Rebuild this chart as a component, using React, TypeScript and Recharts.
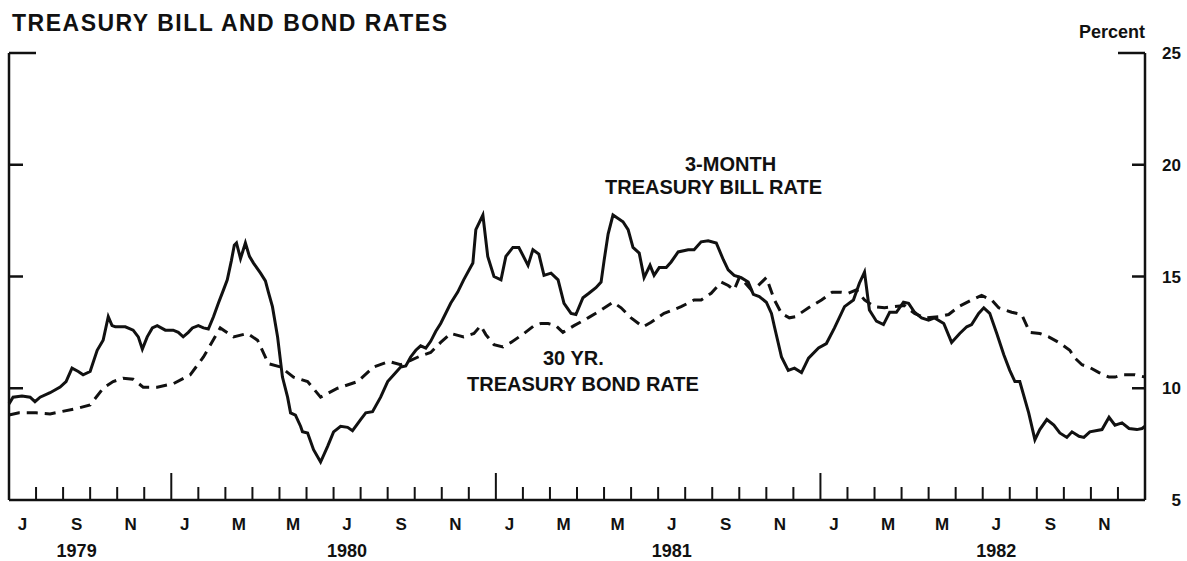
import React from 'react';
import { LineChart, Line, XAxis, YAxis } from 'recharts';

// months since 1 Jul 1979
const billMonths = [0, 0.15, 0.48, 0.78, 0.96, 1.15, 1.52, 1.89, 2.11, 2.33, 2.56, 2.74, 3.0, 3.26, 3.48, 3.67, 3.81, 3.93, 4.3, 4.59, 4.78, 4.93, 5.11, 5.3, 5.48, 5.78, 6.07, 6.26, 6.44, 6.63, 6.78, 7.0, 7.19, 7.37, 7.56, 7.74, 7.93, 8.07, 8.22, 8.33, 8.41, 8.56, 8.74, 8.89, 9.04, 9.3, 9.48, 9.59, 9.74, 9.93, 10.11, 10.3, 10.41, 10.59, 10.78, 10.85, 11.04, 11.26, 11.52, 11.78, 12.0, 12.26, 12.52, 12.7, 13.0, 13.19, 13.44, 13.74, 14.0, 14.3, 14.48, 14.67, 14.85, 15.04, 15.22, 15.41, 15.59, 15.78, 15.96, 16.33, 16.59, 16.81, 17.15, 17.26, 17.52, 17.7, 17.93, 18.19, 18.37, 18.63, 18.85, 19.19, 19.37, 19.59, 19.78, 20.04, 20.3, 20.52, 20.78, 20.96, 21.22, 21.44, 21.7, 21.89, 22.0, 22.15, 22.33, 22.7, 22.89, 23.07, 23.3, 23.48, 23.7, 23.85, 24.04, 24.3, 24.48, 24.74, 25.11, 25.33, 25.59, 25.85, 26.15, 26.41, 26.59, 26.81, 27.07, 27.33, 27.52, 27.74, 28.0, 28.19, 28.3, 28.56, 28.81, 29.04, 29.3, 29.56, 29.93, 30.22, 30.52, 30.89, 31.22, 31.44, 31.63, 31.81, 32.07, 32.33, 32.56, 32.81, 33.07, 33.26, 33.48, 33.74, 34.0, 34.22, 34.56, 34.85, 35.15, 35.41, 35.59, 35.85, 36.04, 36.26, 36.52, 36.78, 37.0, 37.19, 37.37, 37.7, 37.93, 38.11, 38.37, 38.63, 38.85, 39.11, 39.3, 39.56, 39.74, 39.96, 40.41, 40.67, 40.89, 41.15, 41.41, 41.7, 41.89, 42.0];
const billRates = [9.3, 9.6, 9.65, 9.6, 9.4, 9.6, 9.8, 10.05, 10.3, 10.9, 10.75, 10.6, 10.75, 11.7, 12.15, 13.2, 12.8, 12.75, 12.75, 12.6, 12.3, 11.75, 12.3, 12.7, 12.8, 12.6, 12.6, 12.5, 12.3, 12.5, 12.7, 12.8, 12.7, 12.65, 13.2, 13.8, 14.4, 14.85, 15.7, 16.4, 16.5, 15.8, 16.5, 15.9, 15.6, 15.15, 14.8, 14.3, 13.65, 12.3, 10.5, 9.6, 8.9, 8.8, 8.3, 8.05, 8.0, 7.25, 6.7, 7.4, 8.05, 8.3, 8.25, 8.1, 8.6, 8.9, 8.95, 9.6, 10.3, 10.7, 10.95, 11.0, 11.4, 11.7, 11.9, 11.8, 12.1, 12.55, 12.9, 13.8, 14.3, 14.85, 15.6, 17.1, 17.75, 15.9, 15.0, 14.85, 15.9, 16.3, 16.3, 15.5, 16.2, 16.0, 15.05, 15.15, 14.85, 13.8, 13.35, 13.3, 14.05, 14.25, 14.5, 14.75, 15.7, 16.9, 17.75, 17.45, 17.1, 16.3, 16.05, 14.95, 15.5, 15.05, 15.4, 15.4, 15.65, 16.1, 16.2, 16.2, 16.55, 16.6, 16.5, 15.75, 15.3, 15.05, 14.95, 14.75, 14.2, 14.1, 13.85, 13.35, 12.75, 11.4, 10.8, 10.9, 10.7, 11.35, 11.8, 12.0, 12.7, 13.65, 13.95, 14.7, 15.2, 13.5, 13.0, 12.85, 13.4, 13.4, 13.85, 13.8, 13.4, 13.15, 13.05, 13.15, 12.9, 12.05, 12.45, 12.75, 12.85, 13.35, 13.6, 13.35, 12.45, 11.5, 10.8, 10.3, 10.3, 8.9, 7.7, 8.15, 8.6, 8.35, 8.0, 7.8, 8.05, 7.85, 7.8, 8.05, 8.15, 8.7, 8.35, 8.45, 8.2, 8.15, 8.2, 8.3];

const bondMonths = [0, 0.37, 1.0, 1.52, 2.52, 3.0, 3.48, 3.85, 4.22, 4.59, 4.96, 5.48, 6.07, 6.7, 7.19, 7.81, 8.3, 8.81, 9.19, 9.59, 10.04, 10.52, 11.04, 11.52, 12.15, 12.89, 13.48, 14.04, 14.48, 14.85, 15.22, 15.59, 15.96, 16.33, 16.81, 17.19, 17.44, 17.63, 17.93, 18.26, 18.56, 19.04, 19.41, 19.67, 19.93, 20.22, 20.48, 20.89, 21.41, 21.89, 22.33, 22.63, 23.0, 23.44, 23.74, 24.22, 24.85, 25.33, 25.59, 25.96, 26.33, 26.59, 26.81, 27.0, 27.19, 27.44, 27.7, 28.0, 28.3, 28.56, 28.85, 29.07, 29.56, 30.04, 30.44, 30.74, 31.04, 31.33, 31.63, 32.0, 32.37, 32.7, 33.11, 33.48, 33.85, 34.37, 34.74, 35.11, 35.59, 35.96, 36.33, 36.59, 37.07, 37.44, 37.74, 38.11, 38.44, 38.81, 39.22, 39.41, 39.67, 39.93, 40.3, 40.67, 40.89, 41.15, 41.63, 42.0];
const bondRates = [8.8, 8.9, 8.9, 8.85, 9.1, 9.25, 10.0, 10.3, 10.45, 10.4, 10.05, 10.05, 10.2, 10.6, 11.4, 12.7, 12.3, 12.45, 12.15, 11.1, 10.95, 10.5, 10.3, 9.6, 10.0, 10.3, 10.95, 11.2, 11.05, 11.25, 11.45, 11.6, 12.05, 12.45, 12.3, 12.45, 12.8, 12.4, 11.95, 11.85, 12.05, 12.45, 12.8, 12.9, 12.9, 12.8, 12.5, 12.8, 13.15, 13.5, 13.85, 13.6, 13.15, 12.75, 12.95, 13.35, 13.65, 13.95, 13.95, 14.25, 14.75, 14.6, 14.4, 14.95, 14.75, 14.4, 14.6, 14.95, 13.95, 13.35, 13.15, 13.2, 13.6, 13.95, 14.3, 14.3, 14.25, 14.4, 13.95, 13.65, 13.6, 13.65, 13.7, 13.35, 13.15, 13.2, 13.3, 13.65, 13.95, 14.15, 13.95, 13.6, 13.4, 13.3, 12.5, 12.45, 12.3, 12.05, 11.7, 11.35, 11.05, 10.95, 10.7, 10.5, 10.5, 10.6, 10.6, 10.5];

const monthLabels = ['J', 'S', 'N', 'J', 'M', 'M', 'J', 'S', 'N', 'J', 'M', 'M', 'J', 'S', 'N', 'J', 'M', 'M', 'J', 'S', 'N'];
const yearLabels = ['1979', '1980', '1981', '1982'];
const yearLabelMonths = [2, 12, 24, 36];
const yTicks = [5, 10, 15, 20, 25];
const TOTAL_MONTHS = 42;

const billData = billMonths.map((m, i) => ({ m, v: billRates[i] }));
const bondData = bondMonths.map((m, i) => ({ m, v: bondRates[i] }));
const xTicks: number[] = [];
for (let k = 0; k <= TOTAL_MONTHS * 2; k++) xTicks.push(k / 2);

const FONT = '"Liberation Sans", Arial, Helvetica, sans-serif';
const INK = '#111';

function MonthTick(props: any) {
  const { x, y, payload } = props;
  const v = payload.value as number;
  if (Number.isInteger(v)) {
    if (v === 0 || v === TOTAL_MONTHS) return <g />;
    const isYear = v % 12 === 6;
    return <line x1={x} x2={x} y1={y} y2={y - (isYear ? 27 : 13)} stroke={INK} strokeWidth={2} />;
  }
  const k = Math.floor(v);
  if (k % 2 !== 0) return <g />;
  const label = monthLabels[k / 2];
  const yi = yearLabelMonths.indexOf(k);
  return (
    <g>
      <text x={x} y={y + 30} textAnchor="middle" fontFamily={FONT} fontWeight="bold" fontSize={17} fill={INK}>{label}</text>
      {yi >= 0 && (
        <text x={x} y={y + 57} textAnchor="middle" fontFamily={FONT} fontWeight="bold" fontSize={18} fill={INK}>{yearLabels[yi]}</text>
      )}
    </g>
  );
}

function RightTick(props: any) {
  const { x, y, payload } = props;
  const v = payload.value as number;
  const len = v === 25 ? 27 : v === 5 ? 0 : 13;
  return (
    <g>
      {len > 0 && <line x1={x - len} x2={x} y1={y} y2={y} stroke={INK} strokeWidth={2.5} />}
      <text x={x + 36} y={y + 6} textAnchor="end" fontFamily={FONT} fontWeight="bold" fontSize={17} fill={INK}>{v}</text>
    </g>
  );
}

function LeftTick(props: any) {
  const { x, y, payload } = props;
  const v = payload.value as number;
  if (v === 5) return <g />;
  const len = v === 25 ? 27 : 14;
  return <line x1={x} x2={x + len} y1={y} y2={y} stroke={INK} strokeWidth={2.5} />;
}

export default function App() {
  return (
    <div style={{ position: 'absolute', left: 0, top: 0, width: 1187, height: 561, background: '#fff' }}>
      <LineChart width={1187} height={561} margin={{ top: 53, right: 41, bottom: 60, left: 8 }}>
        <XAxis
          dataKey="m"
          type="number"
          domain={[0, TOTAL_MONTHS]}
          ticks={xTicks}
          interval={0}
          height={1}
          tickSize={0}
          tickMargin={0}
          tickLine={false}
          axisLine={{ stroke: INK, strokeWidth: 2.5 }}
          tick={<MonthTick />}
        />
        <YAxis
          yAxisId="r"
          orientation="right"
          type="number"
          domain={[5, 25]}
          ticks={yTicks}
          interval={0}
          width={1}
          tickSize={0}
          tickMargin={0}
          tickLine={false}
          axisLine={{ stroke: INK, strokeWidth: 2.5 }}
          tick={<RightTick />}
        />
        <YAxis
          yAxisId="l"
          orientation="left"
          type="number"
          domain={[5, 25]}
          ticks={yTicks}
          interval={0}
          width={1}
          tickSize={0}
          tickMargin={0}
          tickLine={false}
          axisLine={{ stroke: INK, strokeWidth: 2.5 }}
          tick={<LeftTick />}
        />
        <Line yAxisId="l" data={bondData} dataKey="v" type="linear" stroke={INK} strokeWidth={3} strokeDasharray="11 7" dot={false} isAnimationActive={false} />
        <Line yAxisId="r" data={billData} dataKey="v" type="linear" stroke={INK} strokeWidth={3} dot={false} isAnimationActive={false} />
      </LineChart>
      <svg width={1187} height={561} style={{ position: 'absolute', left: 0, top: 0, pointerEvents: 'none' }}>
        <text x={12} y={31} fontFamily={FONT} fontWeight="bold" fontSize={23} fill={INK} textLength={435} lengthAdjust="spacing">TREASURY BILL AND BOND RATES</text>
        <text x={1145} y={38} textAnchor="end" fontFamily={FONT} fontWeight="bold" fontSize={18} fill={INK}>Percent</text>
        <text x={685} y={171} fontFamily={FONT} fontWeight="bold" fontSize={20} fill={INK}>3-MONTH</text>
        <text x={605} y={194} fontFamily={FONT} fontWeight="bold" fontSize={20} fill={INK}>TREASURY BILL RATE</text>
        <text x={543} y={365} fontFamily={FONT} fontWeight="bold" fontSize={20} fill={INK}>30 YR.</text>
        <text x={467} y={391} fontFamily={FONT} fontWeight="bold" fontSize={20} fill={INK}>TREASURY BOND RATE</text>
      </svg>
    </div>
  );
}
